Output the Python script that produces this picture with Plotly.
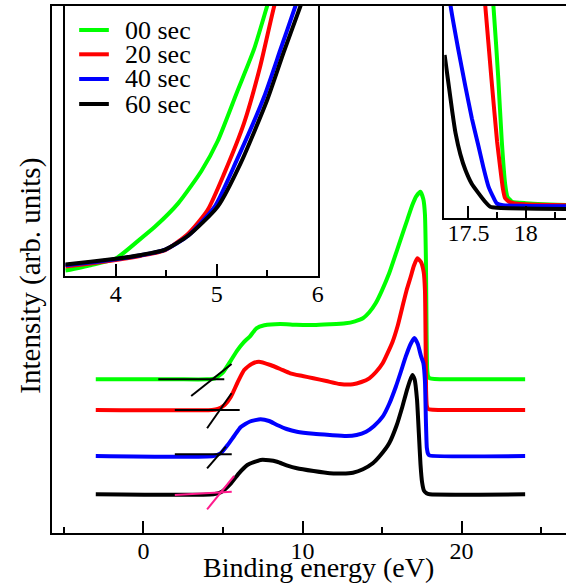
import plotly.graph_objects as go

W, H = 572, 585
FONT = "'Liberation Serif', 'Times New Roman', Times, serif"

names = ["00 sec", "20 sec", "40 sec", "60 sec"]
colors = ["#00ff00", "#ff0000", "#0000ff", "#000000"]
offsets = [1.537, 1.23, 0.77, 0.387]

# ---- main spectra (intensity relative to each baseline, arb. units) ----
x_g = [-3, 2, 4.0, 4.5, 5.0, 5.5, 5.9, 6.3, 6.7, 7.1, 7.6, 8.6, 9.6, 10.7, 11.7, 12.7, 13.3, 13.8,
       14.2, 14.6, 15.0, 15.45, 15.9, 16.3, 16.6, 16.9, 17.15, 17.42, 17.6, 17.7, 17.76, 17.8, 17.84,
       17.9, 18.0, 18.3, 24]
y_g = [0, 0, 0.0, 0.01, 0.07, 0.19, 0.29, 0.37, 0.43, 0.51, 0.54, 0.553, 0.545, 0.543, 0.55, 0.56,
       0.58, 0.61, 0.67, 0.76, 0.89, 1.06, 1.27, 1.46, 1.6, 1.74, 1.83, 1.876, 1.80, 1.65, 1.2, 0.5,
       0.1, 0.03, 0.01, 0.003, 0]

x_r = [-3, 4.3, 4.67, 5.1, 5.5, 5.9, 6.33, 6.8, 7.26, 7.98, 8.6, 9.23, 10.0, 10.68, 11.5, 12.34,
       13.17, 13.7, 14.2, 14.62, 15.04, 15.66, 16.0, 16.28, 16.55, 16.8, 17.0, 17.22, 17.45, 17.62,
       17.7, 17.74, 17.77, 17.82, 17.9, 18.2, 24]
y_r = [0, 0, 0.01, 0.05, 0.133, 0.27, 0.4, 0.46, 0.483, 0.45, 0.41, 0.367, 0.34, 0.317, 0.29, 0.26,
       0.257, 0.28, 0.317, 0.38, 0.467, 0.68, 0.85, 1.03, 1.2, 1.33, 1.44, 1.517, 1.48, 1.38, 1.2,
       0.7, 0.2, 0.04, 0.01, 0.003, 0]

x_b = [-3, 4.4, 4.87, 5.29, 5.7, 6.12, 6.7, 7.36, 7.9, 8.4, 9.0, 9.65, 10.7, 11.72, 12.76, 13.4,
       14.0, 14.5, 15.04, 15.45, 15.87, 16.2, 16.49, 16.8, 17.03, 17.25, 17.45, 17.6, 17.7, 17.76,
       17.82, 17.9, 18.0, 24]
y_b = [0, 0, 0.03, 0.11, 0.2, 0.29, 0.345, 0.367, 0.35, 0.31, 0.27, 0.243, 0.222, 0.21, 0.2, 0.21,
       0.243, 0.3, 0.393, 0.52, 0.693, 0.85, 0.993, 1.12, 1.18, 1.12, 1.0, 0.93, 0.75, 0.35, 0.08,
       0.02, 0.005, 0]

x_k = [-3, 4.4, 4.87, 5.5, 6.0, 6.53, 7.36, 7.9, 8.4, 9.0, 9.65, 10.7, 11.72, 12.5, 13.17, 13.8,
       14.42, 14.9, 15.45, 15.9, 16.28, 16.6, 16.9, 17.05, 17.2, 17.32, 17.42, 17.52, 17.63, 17.8,
       18.0, 24]
y_k = [0, 0, 0.02, 0.11, 0.21, 0.293, 0.343, 0.34, 0.326, 0.29, 0.26, 0.232, 0.21, 0.208, 0.216,
       0.25, 0.31, 0.39, 0.51, 0.68, 0.876, 1.06, 1.193, 1.15, 0.95, 0.6, 0.3, 0.12, 0.04, 0.01, 0, 0]

main_x = [x_g, x_r, x_b, x_k]
main_y = [y_g, y_r, y_b, y_k]

# ---- onset tangent lines (relative to each baseline) ----
tan_h_x = [[0.93, 5.08], [1.97, 6.05], [1.97, 5.55], [1.97, 5.55]]
tan_h_y = [[0, 0], [0, 0], [0.017, 0.017], [-0.007, 0.026]]
tan_s_x = [[3.0, 5.54], [4.0, 5.54], [4.0, 5.18], [4.0, 5.7]]
tan_s_y = [[-0.167, 0.153], [-0.183, 0.167], [-0.123, 0.093], [-0.15, 0.183]]
tan_colors = ["#000000", "#000000", "#000000", "#ff1a8c"]

# ---- inset 1: onset region ----
i1_x = [
    [3.5, 3.75, 4.0, 4.23, 4.39, 4.62, 4.85, 5.01, 5.2, 5.37, 5.5, 5.6],
    [3.5, 3.75, 4.0, 4.25, 4.49, 4.72, 4.91, 5.075, 5.27, 5.43, 5.57, 5.65],
    [3.5, 3.75, 4.0, 4.25, 4.49, 4.72, 4.98, 5.2, 5.47, 5.63, 5.78, 5.85],
    [3.5, 3.75, 4.0, 4.25, 4.49, 4.72, 5.01, 5.24, 5.5, 5.66, 5.83, 5.9],
]
i1_y = [
    [0.02, 0.04, 0.065, 0.133, 0.183, 0.27, 0.39, 0.5, 0.68, 0.84, 1.0, 1.12],
    [0.035, 0.046, 0.059, 0.075, 0.096, 0.158, 0.244, 0.38, 0.565, 0.775, 1.0, 1.1],
    [0.04, 0.05, 0.062, 0.077, 0.098, 0.15, 0.257, 0.43, 0.664, 0.837, 1.0, 1.08],
    [0.043, 0.053, 0.064, 0.078, 0.098, 0.15, 0.257, 0.42, 0.652, 0.825, 1.0, 1.08],
]

# ---- inset 2: cutoff region ----
i2_x = [
    [17.69, 17.718, 17.76, 17.79, 17.82, 17.84, 17.88, 18.0, 18.35],
    [17.62, 17.647, 17.7, 17.75, 17.776, 17.8, 17.82, 17.86, 17.905, 18.1, 18.35],
    [17.3, 17.345, 17.41, 17.474, 17.53, 17.589, 17.63, 17.675, 17.72, 17.747, 17.8, 18.0, 18.35],
    [17.293, 17.31, 17.33, 17.36, 17.388, 17.43, 17.474, 17.53, 17.589, 17.64, 17.69, 17.75,
     17.85, 18.1, 18.35],
]
i2_y = [
    [1.12, 1.0, 0.66, 0.368, 0.16, 0.1, 0.077, 0.07, 0.061],
    [1.15, 1.0, 0.66, 0.36, 0.242, 0.14, 0.093, 0.075, 0.069, 0.063, 0.06],
    [1.22, 1.0, 0.8, 0.62, 0.47, 0.336, 0.24, 0.148, 0.095, 0.069, 0.06, 0.057, 0.055],
    [0.769, 0.70, 0.62, 0.5, 0.4, 0.3, 0.226, 0.16, 0.116, 0.08, 0.053, 0.048, 0.046, 0.044, 0.042],
]

fig = go.Figure()

for i in range(4):
    fig.add_trace(go.Scatter(
        x=main_x[i], y=[v + offsets[i] for v in main_y[i]], mode="lines", name=names[i],
        line=dict(color=colors[i], width=4, shape="spline", smoothing=0.5),
        xaxis="x", yaxis="y", showlegend=False))
for i in range(4):
    fig.add_trace(go.Scatter(
        x=tan_h_x[i], y=[v + offsets[i] for v in tan_h_y[i]], mode="lines",
        line=dict(color=tan_colors[i], width=2), xaxis="x", yaxis="y", showlegend=False))
    fig.add_trace(go.Scatter(
        x=tan_s_x[i], y=[v + offsets[i] for v in tan_s_y[i]], mode="lines",
        line=dict(color=tan_colors[i], width=2), xaxis="x", yaxis="y", showlegend=False))
for i in range(4):
    fig.add_trace(go.Scatter(
        x=i1_x[i], y=i1_y[i], mode="lines", line=dict(color=colors[i], width=4, shape="spline",
                                                       smoothing=0.6),
        xaxis="x2", yaxis="y2", showlegend=False))
for i in range(4):
    fig.add_trace(go.Scatter(
        x=i2_x[i], y=i2_y[i], mode="lines",
        line=dict(color=colors[i], width=4, shape="spline", smoothing=0.4),
        xaxis="x3", yaxis="y3", showlegend=False))


def px(xp):
    return xp / W


def py(yp):
    return 1 - yp / H


tickfont = dict(family=FONT, size=24, color="black")
common_x = dict(showline=True, linecolor="black", linewidth=2, showgrid=False, zeroline=False,
                ticks="inside", tickwidth=2, ticklen=12, tickcolor="black", tickfont=tickfont,
                ticklabelstandoff=-5)
common_y = dict(showline=True, linecolor="black", linewidth=2, showgrid=False, zeroline=False,
                ticks="", showticklabels=False)

fig.update_layout(
    width=W, height=H, margin=dict(l=0, r=0, t=0, b=0),
    paper_bgcolor="white", plot_bgcolor="white",
    font=dict(family=FONT, color="black"),
    xaxis=dict(common_x, domain=[px(53), 1], range=[-5.725, 26.57], tick0=0, dtick=10,
               mirror=True, anchor="y",
               minor=dict(ticks="inside", ticklen=6, tickwidth=2, tickcolor="black", dtick=5, tick0=0)),
    yaxis=dict(common_y, domain=[py(533), py(6)], range=[0, 5.27], anchor="x"),
    xaxis2=dict(common_x, domain=[px(66), px(321)], range=[3.5, 6], tick0=4, dtick=1,
                mirror=True, anchor="y2",
                minor=dict(ticks="inside", ticklen=6, tickwidth=2, tickcolor="black", dtick=0.5, tick0=4)),
    yaxis2=dict(common_y, domain=[py(276), py(6)], range=[0, 1], mirror=True, anchor="x2"),
    xaxis3=dict(common_x, domain=[px(449), 1], range=[17.29, 18.35], tick0=17.5, dtick=0.5,
                mirror=True, anchor="y3", ticklabelstandoff=-8,
                minor=dict(ticks="inside", ticklen=6, tickwidth=2, tickcolor="black", dtick=0.25, tick0=17.5)),
    yaxis3=dict(common_y, domain=[py(218), py(6)], range=[0, 1], anchor="x3"),
)

annotations = [
    dict(text="Binding energy (eV)", x=px(322), y=py(567), xref="paper", yref="paper",
         showarrow=False, xanchor="center", yanchor="middle",
         font=dict(family=FONT, size=28, color="black")),
    dict(text="Intensity (arb. units)", x=px(30), y=py(276), xref="paper", yref="paper",
         showarrow=False, xanchor="center", yanchor="middle", textangle=-90,
         font=dict(family=FONT, size=29, color="black")),
]
shapes = []
legend_rows = [30, 54.3, 79, 104]
for i in range(4):
    shapes.append(dict(type="line", xref="paper", yref="paper", x0=px(80), x1=px(110),
                       y0=py(legend_rows[i]), y1=py(legend_rows[i]),
                       line=dict(color=colors[i], width=4)))
    annotations.append(dict(text=names[i], x=px(124), y=py(legend_rows[i]), xref="paper",
                            yref="paper", showarrow=False, xanchor="left", yanchor="middle",
                            font=dict(family=FONT, size=26, color="black")))
fig.update_layout(annotations=annotations, shapes=shapes)

fig.write_html("out.html", config={"displayModeBar": False},
               post_script="document.body.style.margin='0';document.body.style.padding='0';")
